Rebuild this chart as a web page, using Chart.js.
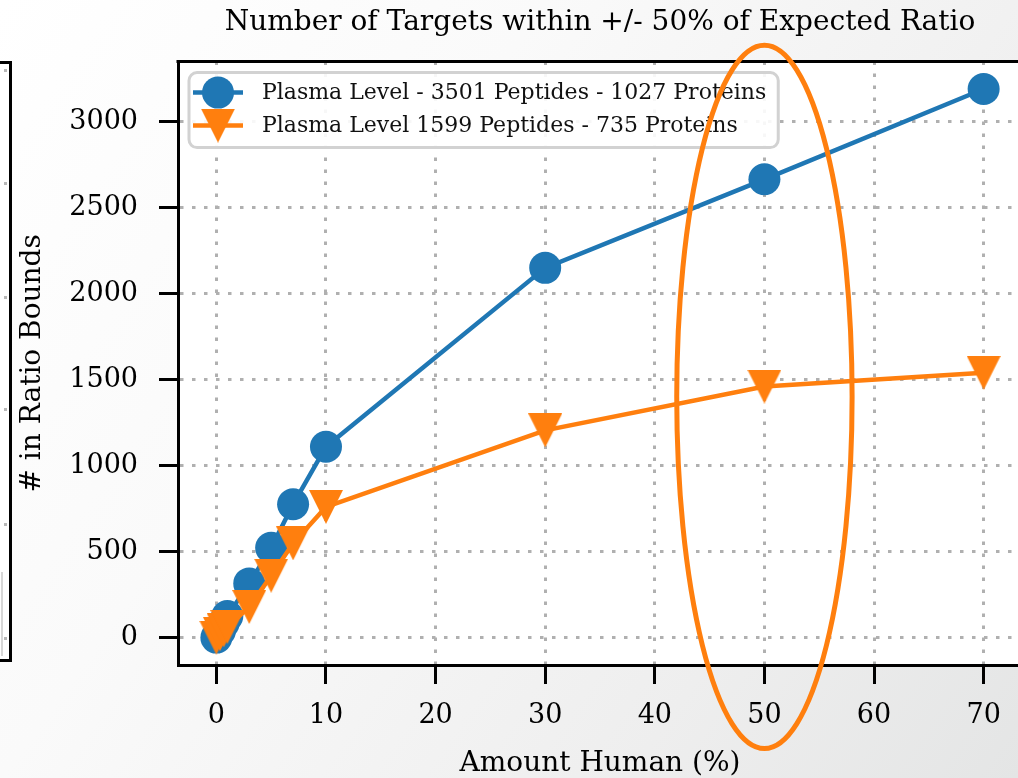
<!DOCTYPE html>
<html>
<head>
<meta charset="utf-8">
<script src="https://cdn.jsdelivr.net/npm/chart.js@4.4.1/dist/chart.umd.min.js"></script>
<style>
  html, body { margin: 0; padding: 0; width: 1018px; height: 778px; overflow: hidden; }
  body {
    position: relative;
    background: linear-gradient(125deg, #ffffff 0%, #fafafa 35%, #eeeeee 75%, #e4e5e5 100%);
    font-family: "DejaVu Serif", serif;
  }
  #wrap { position: absolute; left: 0; top: 0; width: 1200px; height: 781px; }
  /* right edge of the neighbouring panel */
  .side { position: absolute; left: -120px; top: 61px; width: 126px; height: 595px;
          border: 3px solid #000; background: #fff; }
  .side .dot { position: absolute; left: 121px; width: 3px; height: 3px; background: #b8b8b8; }
  .side .edge { position: absolute; left: 118px; top: 508px; width: 2px; height: 84px; background: #d6d6d6; }
</style>
</head>
<body>
<div class="side">
  <div class="dot" style="top:5px"></div>
  <div class="dot" style="top:118px"></div>
  <div class="dot" style="top:232px"></div>
  <div class="dot" style="top:344px"></div>
  <div class="dot" style="top:459px"></div>
  <div class="dot" style="top:573px"></div>
  <div class="edge"></div>
</div>
<div id="wrap"><canvas id="chart" width="1200" height="781"></canvas></div>
<script>
// Amount of human sample (%) and the number of targets within ratio bounds
const amountHuman  = [0, 0.33, 0.67, 1, 3, 5, 7, 10, 30, 50, 70];
const plasmaLevelA = [0, 40, 85, 125, 315, 522, 775, 1110, 2150, 2665, 3190];
const plasmaLevelB = [0, 20, 42, 62, 178, 360, 548, 760, 1205, 1460, 1540];
const seriesLabels = [
  'Plasma Level - 3501 Peptides - 1027 Proteins',
  'Plasma Level 1599 Peptides - 735 Proteins'
];
const xTickValues = [0, 10, 20, 30, 40, 50, 60, 70];
const yTickValues = [0, 500, 1000, 1500, 2000, 2500, 3000];
const titleText  = 'Number of Targets within +/- 50% of Expected Ratio';
const xLabelText = 'Amount Human (%)';
const yLabelText = '# in Ratio Bounds';
// highlighted region around the 50% sample, in data units
const highlight = { x: 50, y: 1400, rx: 8, ry: 2045 };

const BLUE = '#1f77b4';
const ORANGE = '#ff7f0e';
const FONT = '"DejaVu Serif", serif';

// axis limits with 5% margins, as in the plotting defaults
function padded(values) {
  const lo = Math.min(...values), hi = Math.max(...values);
  const m = (hi - lo) * 0.05;
  return [lo - m, hi + m];
}
const [xMin, xMax] = padded(amountHuman);
const [yMin, yMax] = padded(plasmaLevelA.concat(plasmaLevelB));

// downward triangle marker (as wide as it is tall)
function triangleDown(color, size) {
  const c = document.createElement('canvas');
  c.width = size; c.height = size;
  const g = c.getContext('2d');
  g.fillStyle = color;
  g.beginPath();
  g.moveTo(0, 0); g.lineTo(size, 0); g.lineTo(size / 2, size);
  g.closePath(); g.fill();
  return c;
}
const triMarker = triangleDown(ORANGE, 34);

const toPoints = ys => amountHuman.map((x, i) => ({ x, y: ys[i] }));

// plot background, frame top edge, legend and highlight ellipse
const decorations = {
  id: 'decorations',
  afterLayout(chart) {
    // centre the title over the plotting area
    const a = chart.chartArea, t = chart.titleBlock;
    if (t) { t.left = a.left; t.right = a.right; t.width = a.right - a.left; }
  },
  beforeDraw(chart) {
    const { ctx, chartArea: a } = chart;
    ctx.save();
    ctx.fillStyle = '#ffffff';
    ctx.fillRect(a.left, a.top, a.right - a.left, a.bottom - a.top);
    ctx.restore();
  },
  afterDatasetsDraw(chart) {
    const { ctx, chartArea: a } = chart;
    ctx.save();
    // top and right spines
    ctx.strokeStyle = '#000';
    ctx.lineWidth = 3;
    ctx.beginPath();
    ctx.moveTo(a.left - 1.5, a.top);
    ctx.lineTo(a.right, a.top);
    ctx.lineTo(a.right, a.bottom);
    ctx.stroke();

    // legend
    const ds = chart.data.datasets;
    ctx.font = '22px ' + FONT;
    const textW = Math.max(...ds.map(d => ctx.measureText(d.label).width));
    const bx = a.left + 11, by = a.top + 11;
    const textX = bx + 73;
    const bw = textX + textW + 12 - bx, bh = 75;
    ctx.beginPath();
    ctx.roundRect(bx, by, bw, bh, 8);
    ctx.fillStyle = 'rgba(255,255,255,0.9)';
    ctx.fill();
    ctx.lineWidth = 3;
    ctx.strokeStyle = '#d2d2d2';
    ctx.stroke();
    ds.forEach((d, i) => {
      const cy = by + 20 + i * 33;
      ctx.strokeStyle = d.borderColor;
      ctx.lineWidth = d.borderWidth;
      ctx.beginPath();
      ctx.moveTo(bx + 4, cy); ctx.lineTo(bx + 54, cy);
      ctx.stroke();
      const mx = bx + 29;
      if (d.pointStyle === 'circle') {
        ctx.fillStyle = d.pointBackgroundColor;
        ctx.beginPath();
        ctx.arc(mx, cy, d.pointRadius, 0, Math.PI * 2);
        ctx.fill();
      } else {
        ctx.drawImage(d.pointStyle, mx - d.pointStyle.width / 2, cy - d.pointStyle.height / 2);
      }
      ctx.fillStyle = '#111';
      ctx.textBaseline = 'middle';
      ctx.textAlign = 'left';
      ctx.fillText(d.label, textX, cy + 1);
    });
    ctx.restore();
  },
  afterDraw(chart) {
    const { ctx, scales: { x, y } } = chart;
    const cx = x.getPixelForValue(highlight.x);
    const cy = y.getPixelForValue(highlight.y);
    const rx = x.getPixelForValue(highlight.x + highlight.rx) - cx;
    const ry = cy - y.getPixelForValue(highlight.y + highlight.ry);
    ctx.save();
    ctx.strokeStyle = ORANGE;
    ctx.lineWidth = 5;
    ctx.beginPath();
    ctx.ellipse(cx, cy, rx, ry, 0, 0, Math.PI * 2);
    ctx.stroke();
    ctx.restore();
  }
};

const gridStyle = {
  color: '#b0b0b0',
  lineWidth: 3,
  tickColor: '#000',
  tickWidth: 3,
  tickLength: 19,
  tickBorderDash: []
};
const borderStyle = { display: true, color: '#000', width: 3, dash: [3.5, 8.5] };
const plain = v => String(v);

new Chart(document.getElementById('chart'), {
  type: 'line',
  data: {
    datasets: [
      {
        label: seriesLabels[0],
        data: toPoints(plasmaLevelA),
        borderColor: BLUE,
        borderWidth: 4.5,
        pointStyle: 'circle',
        pointRadius: 16,
        pointBorderWidth: 0,
        pointBackgroundColor: BLUE,
        tension: 0,
        order: 2
      },
      {
        label: seriesLabels[1],
        data: toPoints(plasmaLevelB),
        borderColor: ORANGE,
        borderWidth: 4.5,
        pointStyle: triMarker,
        pointRadius: 17,
        pointBorderWidth: 0,
        pointBackgroundColor: ORANGE,
        tension: 0,
        order: 1
      }
    ]
  },
  options: {
    responsive: false,
    animation: false,
    events: [],
    layout: { padding: { left: 0, right: 178, top: 0, bottom: 0 } },
    plugins: {
      legend: { display: false },
      tooltip: { enabled: false },
      title: {
        display: true,
        text: titleText,
        color: '#000',
        font: { family: FONT, size: 28, weight: 'normal' },
        padding: { top: 6, bottom: 22 }
      }
    },
    scales: {
      x: {
        type: 'linear',
        min: xMin, max: xMax,
        afterBuildTicks: s => { s.ticks = xTickValues.map(v => ({ value: v })); },
        afterFit: s => { s.height = 116; },
        grid: gridStyle,
        border: borderStyle,
        ticks: { color: '#000', font: { family: FONT, size: 27 }, padding: 16, maxRotation: 0, autoSkip: false, callback: plain },
        title: { display: true, text: xLabelText, color: '#000', font: { family: FONT, size: 28 }, padding: { top: 0, bottom: 0 } }
      },
      y: {
        type: 'linear',
        min: yMin, max: yMax,
        afterBuildTicks: s => { s.ticks = yTickValues.map(v => ({ value: v })); },
        afterFit: s => { s.width = 178; },
        grid: gridStyle,
        border: borderStyle,
        ticks: { color: '#000', font: { family: FONT, size: 27 }, padding: 21, autoSkip: false, callback: plain },
        title: { display: true, text: yLabelText, color: '#000', font: { family: FONT, size: 28 }, padding: { top: 16, bottom: 0 } }
      }
    }
  },
  plugins: [decorations]
});
</script>
</body>
</html>
